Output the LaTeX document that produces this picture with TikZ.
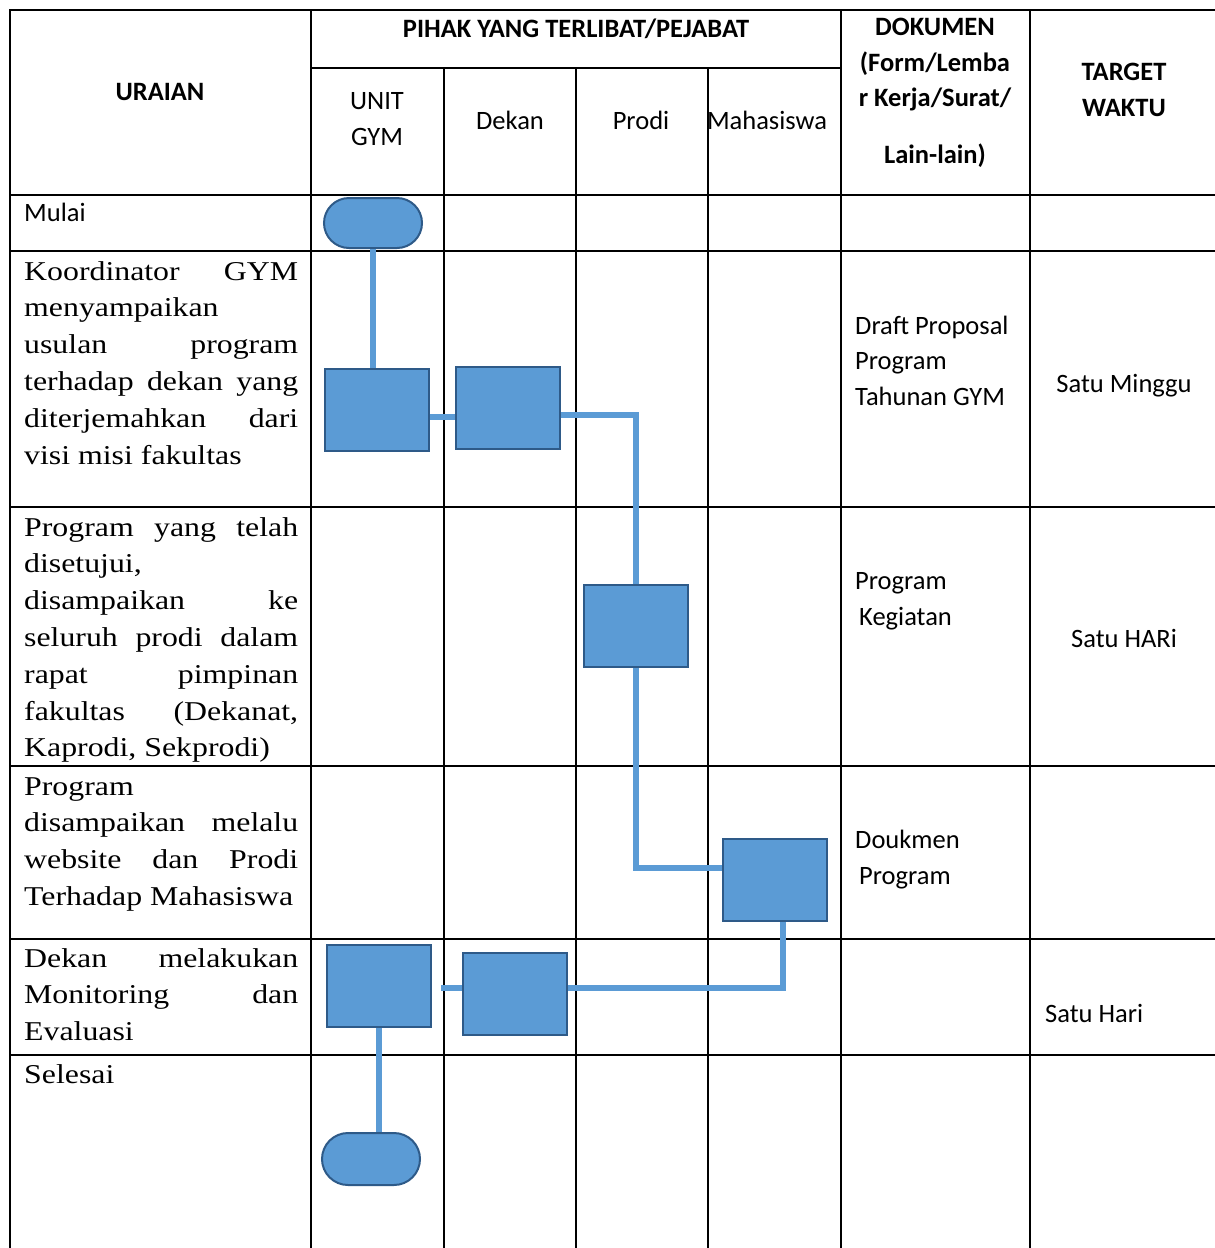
\documentclass[tikz,border=0pt]{standalone}
\usepackage{fontspec}
\setmainfont{Carlito}
\newfontfamily\uraianfont[FakeStretch=1.17]{Liberation Serif}
\usetikzlibrary{shapes.misc}
\definecolor{boxfill}{HTML}{5B9BD5}
\definecolor{boxline}{HTML}{2E5A88}
\hyphenpenalty=10000
\tikzset{
  grid/.style={line width=1.8pt, line cap=rect},
  task/.style={draw=boxline, fill=boxfill, line width=2pt, minimum width=104pt, minimum height=82pt, inner sep=0pt},
  terminal/.style={rounded rectangle, draw=boxline, fill=boxfill, line width=2pt, minimum width=98pt, minimum height=50pt, inner sep=0pt},
  flow/.style={draw=boxfill, line width=6pt},
  head/.style={font=\fontsize{26.5}{35.5}\selectfont\bfseries, align=center, anchor=base, inner sep=0pt},
  cell/.style={font=\fontsize{26.5}{35.5}\selectfont, align=left, anchor=base west, inner sep=0pt},
  cellc/.style={font=\fontsize{26.5}{35.5}\selectfont, align=center, anchor=base, inner sep=0pt},
  uraian/.style={font=\uraianfont\fontsize{27.2}{36.8}\selectfont, text width=274pt, align=justify, anchor=base west, inner sep=0pt},
}
\begin{document}
\begin{tikzpicture}[x=1pt, y=-1pt]
\useasboundingbox (0,0) rectangle (1215,1248);
% table
\draw[grid] (10,10) -- (1230,10);
\draw[grid] (311,68) -- (841,68);
\foreach \y in {195,251,507,766,939,1055}
  \draw[grid] (10,\y) -- (1230,\y);
\foreach \x in {10,311,841,1030}
  \draw[grid] (\x,10) -- (\x,1260);
\foreach \x in {444,576,708}
  \draw[grid] (\x,68) -- (\x,1260);
% header (multi-line nodes sit on their last baseline)
\node[head] (uraianhead) at (160,100) {URAIAN};
\node[head] (pihak) at (576,37) {PIHAK YANG TERLIBAT/PEJABAT};
\node[cellc] (unit) at (377,145) {UNIT\\GYM};
\node[cellc] (dekan) at (510,129) {Dekan};
\node[cellc] (prodi) at (641,129) {Prodi};
\node[cellc] (mhs) at (767,129) {Mahasiswa};
\node[head] (dokumen) at (935,163) {DOKUMEN\\(Form/Lemba\\r Kerja/Surat/\\[21pt]Lain-lain)};
\node[head] (target) at (1124,116) {TARGET\\WAKTU};
% uraian
\node[cell] (mulai) at (24,221) {Mulai};
\node[uraian] (u1) at (24,280) {Koordinator GYM\linebreak menyampaikan\linebreak usulan program\linebreak terhadap dekan yang\linebreak diterjemahkan dari\linebreak visi misi fakultas};
\node[uraian] (u2) at (24,536) {Program yang telah\linebreak disetujui,\linebreak disampaikan ke\linebreak seluruh prodi dalam\linebreak rapat pimpinan\linebreak fakultas (Dekanat,\linebreak Kaprodi, Sekprodi)};
\node[uraian] (u3) at (24,795) {Program\linebreak disampaikan melalu\linebreak website dan Prodi\linebreak Terhadap Mahasiswa};
\node[uraian] (u4) at (24,967) {Dekan melakukan\linebreak Monitoring dan\linebreak Evaluasi};
\node[uraian] (u5) at (24,1083) {Selesai};
% dokumen dan waktu
\node[cell] (dok1) at (855,405) {Draft Proposal\\Program\\Tahunan GYM};
\node[cell] (dok2) at (855,625) {Program\\\hspace*{4pt}Kegiatan};
\node[cell] (dok3) at (855,884) {Doukmen\\\hspace*{4pt}Program};
\node[cellc] (waktu1) at (1124,392) {Satu Minggu};
\node[cellc] (waktu2) at (1124,647) {Satu HARi};
\node[cell] (waktu3) at (1045,1022) {Satu Hari};
% bagan alir
\node[terminal] (start) at (373,223) {};
\node[task] (box1) at (377,410) {};
\node[task] (box2) at (508,408) {};
\node[task] (box3) at (636,626) {};
\node[task] (box4) at (775,880) {};
\node[task] (box5) at (379,986) {};
\node[task] (box6) at (515,994) {};
\node[terminal, minimum height=52pt] (end) at (371,1159) {};
\draw[flow] (start.south) -- (start.south |- box1.north);
\draw[flow] ([yshift=-7pt]box1.east) -- ([yshift=-7pt]box1.east -| box2.west);
\draw[flow] ([yshift=-7pt]box2.east) -| (box3.north);
\draw[flow] (box3.south) |- ([yshift=12pt]box4.west);
\draw[flow] ([xshift=8pt]box4.south) |- ([yshift=6pt]box6.east);
\draw[flow, shorten >=9pt] ([yshift=6pt]box6.west) -- ([yshift=6pt]box6.west -| box5.east);
\draw[flow] (box5.south) -- (box5.south |- end.north);
\end{tikzpicture}
\end{document}
